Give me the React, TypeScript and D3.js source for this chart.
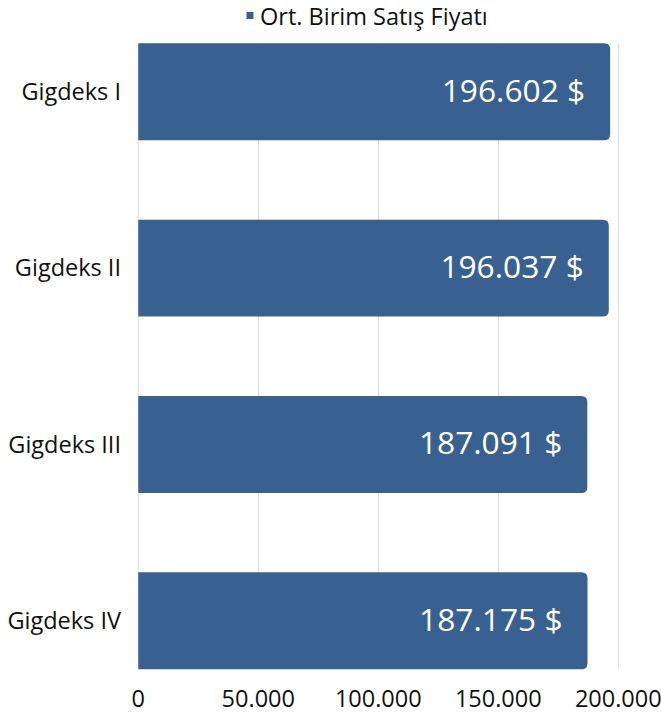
import React from "react";
import * as d3 from "d3";

const categories = ["Gigdeks I", "Gigdeks II", "Gigdeks III", "Gigdeks IV"];
const values = [196602, 196037, 187091, 187175];
const tickValues = [0, 50000, 100000, 150000, 200000];
const seriesName = "Ort. Birim Satış Fiyatı";

const fmt = (v: number) => d3.format(",")(v).replace(/,/g, ".");

export default function App() {
  const W = 661, H = 713;
  const left = 138.3, right = 618.3, top = 43.3, bottom = 669.3;
  const x = d3.scaleLinear().domain([0, 200000]).range([left, right]);
  const y = d3.scaleBand().domain(categories).range([top, bottom]).paddingInner(0.45).paddingOuter(0);
  const color = "#386192";
  const font = "'Open Sans', 'Noto Sans', sans-serif";
  const r = 6;
  const barPath = (v: number, c: string) => {
    const x0 = x(0), x1 = x(v), y0 = y(c)!, h = y.bandwidth();
    return `M${x0},${y0} H${x1 - r} Q${x1},${y0} ${x1},${y0 + r} V${y0 + h - r} Q${x1},${y0 + h} ${x1 - r},${y0 + h} H${x0} Z`;
  };
  return (
    <svg width={W} height={H} style={{ position: "absolute", left: 0, top: 0, fontFamily: font }}>
      <rect x={0} y={0} width={W} height={H} fill="#fff" />
      {tickValues.map((t) => (
        <line key={t} x1={x(t)} x2={x(t)} y1={top} y2={bottom} stroke="#d9d9d9" strokeWidth={1} />
      ))}
      {categories.map((c, i) => (
        <g key={c}>
          <path d={barPath(values[i], c)} fill={color} />
          <text x={x(values[i]) - 25} y={y(c)! + y.bandwidth() / 2 + 10} textAnchor="end" fill="#fff" fontSize={31.7}>
            {fmt(values[i])} $
          </text>
          <text x={121} y={y(c)! + y.bandwidth() / 2 + 8.3} textAnchor="end" fill="#111" fontSize={23.5}>
            {c}
          </text>
        </g>
      ))}
      {tickValues.map((t) => (
        <text key={t} x={x(t)} y={706.5} textAnchor="middle" fill="#111" fontSize={23.5}>
          {fmt(t)}
        </text>
      ))}
      <rect x={246.5} y={12} width={7} height={7} fill={color} />
      <text x={260} y={25} fill="#111" fontSize={23.5}>{seriesName}</text>
    </svg>
  );
}
